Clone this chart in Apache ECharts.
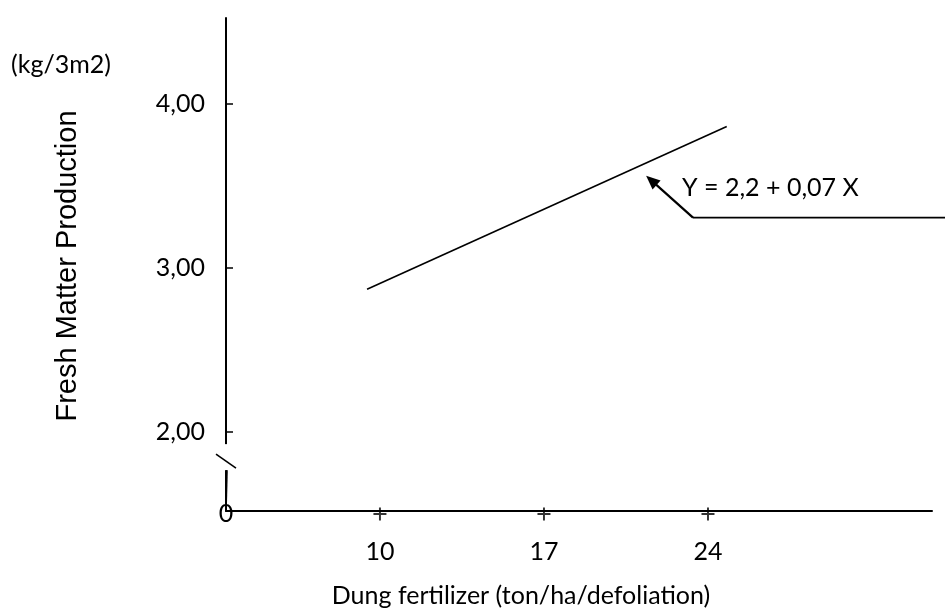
<!DOCTYPE html>
<html><head><meta charset="utf-8">
<script src="https://cdn.jsdelivr.net/npm/echarts@6/dist/echarts.min.js"></script>
<style>html,body{margin:0;padding:0;background:#fff}#c{width:945px;height:609px}</style>
</head><body><div id="c"></div>
<script>
// ---- data ----
const lineX = [9.45, 24.8];          // dung fertilizer (ton/ha/defoliation)
const lineY = [2.87, 3.86];          // fresh matter production (kg/3m2)
const xTicks = [10, 17, 24];
const yTicks = [2, 3, 4];
const equationText = 'Y = 2,2 + 0,07 X';
const arrowFrom = [23.36, 3.305];    // annotation arrow tail (data coords)
const arrowTo = [21.36, 3.56];       // annotation arrow head (data coords)
const xTitle = 'Dung fertilizer (ton/ha/defoliation)';
const yTitle = 'Fresh Matter Production';
const yUnit = '(kg/3m2)';

const X_MIN = 3.43, X_MAX = 33.56, Y_MIN = 1.52, Y_MAX = 4.52;
const numFont = 'Lato';
const FS = 25;
const chart = echarts.init(document.getElementById('c'), null, {renderer: 'canvas'});

const option = {
  animation: false,
  backgroundColor: '#fff',
  grid: {left: 226, right: 13, top: 18, bottom: 98},
  xAxis: {
    type: 'value', min: X_MIN, max: X_MAX,
    splitLine: {show: false},
    axisLine: {show: true, lineStyle: {color: '#000', width: 2}},
    axisTick: {show: false},
    axisLabel: {show: true, customValues: xTicks, margin: 28, color: '#000', fontFamily: numFont, fontSize: FS}
  },
  yAxis: {
    type: 'value', min: Y_MIN, max: Y_MAX,
    splitLine: {show: false},
    axisLine: {show: true, lineStyle: {color: '#000', width: 2}},
    axisTick: {show: true, inside: true, length: 7, customValues: yTicks, lineStyle: {color: '#000', width: 1.5}},
    axisLabel: {show: true, customValues: yTicks, margin: 21, color: '#000', fontFamily: numFont, fontSize: FS,
      formatter: v => v.toFixed(2).replace('.', ',')}
  },
  series: [
    {
      type: 'line', data: lineX.map((x, i) => [x, lineY[i]]),
      symbol: 'none', lineStyle: {color: '#000', width: 1.6}, silent: true
    },
    {
      type: 'scatter', data: xTicks.map(x => [x, Y_MIN]), clip: false,
      symbol: 'path://M0 5.1 L12 5.1 L12 6.9 L0 6.9 Z M5.1 0 L6.9 0 L6.9 12 L5.1 12 Z',
      symbolSize: [13, 13], symbolOffset: [0, 3], itemStyle: {color: '#000'}, silent: true
    }
  ]
};
chart.setOption(option);

const p = (x, y) => chart.convertToPixel({gridIndex: 0}, [x, y]);
const o = p(X_MIN, Y_MIN);
const a0 = p(arrowFrom[0], arrowFrom[1]);
const a1 = p(arrowTo[0], arrowTo[1]);
const ang = Math.atan2(a1[1] - a0[1], a1[0] - a0[0]);
const hl = 14, hw = 6;
const head = [
  [a1[0], a1[1]],
  [a1[0] - hl * Math.cos(ang) + hw * Math.sin(ang), a1[1] - hl * Math.sin(ang) - hw * Math.cos(ang)],
  [a1[0] - hl * Math.cos(ang) - hw * Math.sin(ang), a1[1] - hl * Math.sin(ang) + hw * Math.cos(ang)]
];
const yb = p(X_MIN, 1.86)[1]; // axis break position
chart.setOption({
  graphic: [
    {type: 'rect', shape: {x: o[0] - 6, y: yb - 11, width: 12, height: 26}, style: {fill: '#fff'}, z: 100},
    {type: 'line', shape: {x1: o[0] - 10, y1: yb - 1, x2: o[0] + 10, y2: yb + 13}, style: {stroke: '#000', lineWidth: 1.6}, z: 101},
    {type: 'line', shape: {x1: o[0] + 1, y1: yb + 15, x2: o[0], y2: o[1]}, style: {stroke: '#000', lineWidth: 1.6}, z: 101},
    {type: 'text', x: o[0], y: o[1] + 3, z: 102, style: {text: '0', fill: '#000', font: FS + 'px ' + numFont, align: 'center', verticalAlign: 'middle'}},
    {type: 'line', shape: {x1: a0[0], y1: a0[1], x2: 945, y2: a0[1]}, style: {stroke: '#000', lineWidth: 1.6}},
    {type: 'line', shape: {x1: a0[0], y1: a0[1], x2: a1[0] - 10 * Math.cos(ang), y2: a1[1] - 10 * Math.sin(ang)}, style: {stroke: '#000', lineWidth: 2.2}},
    {type: 'polygon', shape: {points: head}, style: {fill: '#000'}},
    {type: 'text', x: 682, y: 188, style: {text: equationText, fill: '#000', font: FS + 'px ' + numFont, align: 'left', verticalAlign: 'middle'}},
    {type: 'text', x: 521, y: 596, style: {text: xTitle, fill: '#000', font: FS + 'px ' + numFont, align: 'center', verticalAlign: 'middle'}},
    {type: 'text', x: 68, y: 266, rotation: Math.PI / 2, style: {text: yTitle, fill: '#000', font: '29px "Liberation Sans"', align: 'center', verticalAlign: 'middle'}},
    {type: 'text', x: 11, y: 65, style: {text: yUnit, fill: '#000', font: FS + 'px ' + numFont, align: 'left', verticalAlign: 'middle'}}
  ]
});
</script></body></html>
